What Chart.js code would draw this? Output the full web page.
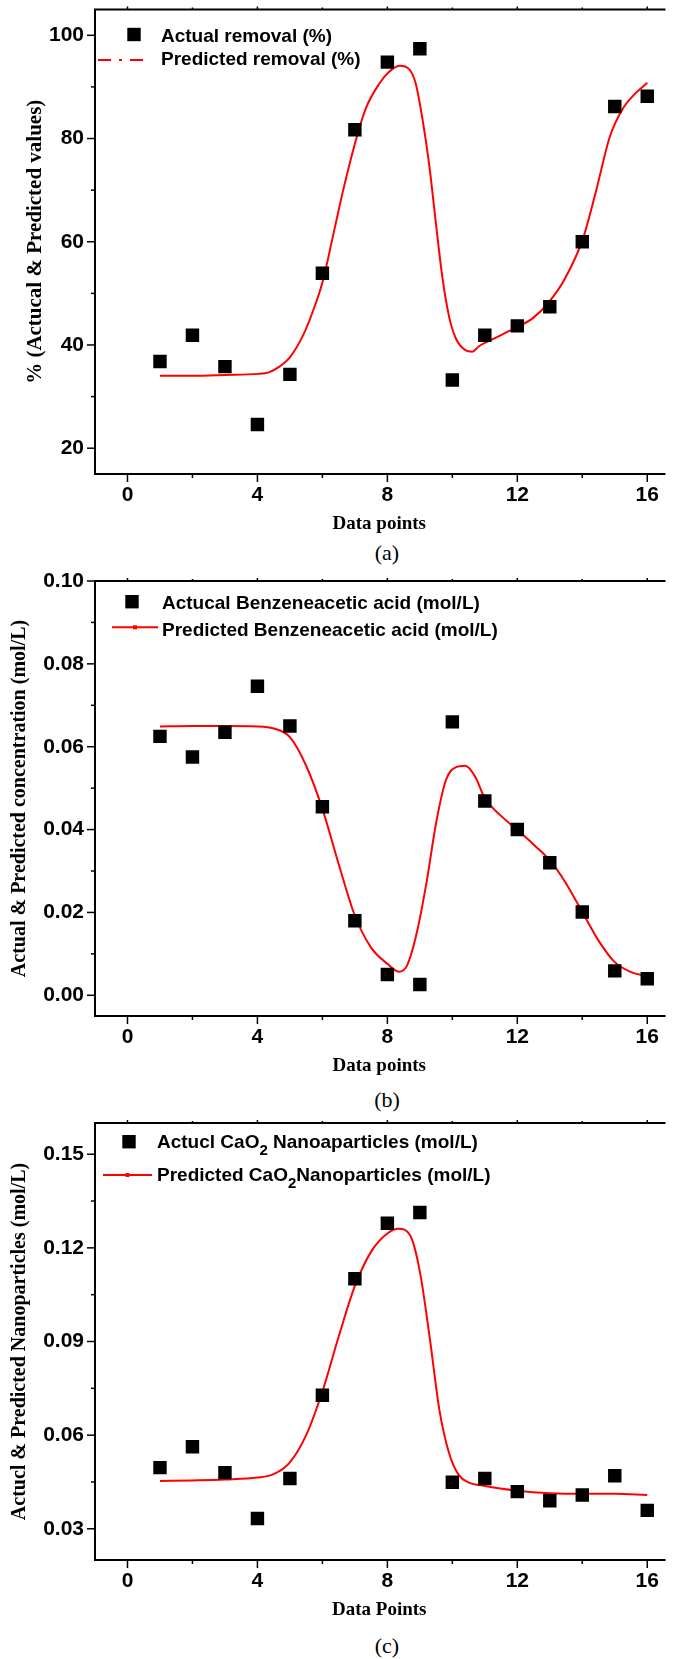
<!DOCTYPE html>
<html>
<head>
<meta charset="utf-8">
<script src="https://cdn.jsdelivr.net/npm/chart.js@4.4.1/dist/chart.umd.min.js"></script>
<style>
  html, body { margin: 0; padding: 0; background: #fff; }
  body { position: relative; width: 673px; height: 1659px; overflow: hidden; }
  canvas { position: absolute; left: 0; }
  .cap {
    position: absolute; width: 80px; margin-left: -40px; text-align: center;
    font: 22px "Liberation Serif", "Times New Roman", serif; line-height: 24px; color: #000;
  }
</style>
</head>
<body>
<canvas id="chartA" width="673" height="536" style="top:0px"></canvas>
<div class="cap" style="left:387px;top:541px">(a)</div>
<canvas id="chartB" width="673" height="511" style="top:567px"></canvas>
<div class="cap" style="left:387px;top:1088px">(b)</div>
<canvas id="chartC" width="673" height="513" style="top:1109px"></canvas>
<div class="cap" style="left:387px;top:1634px">(c)</div>

<script>
// ---- data ----
const POINT_IDS = [1, 2, 3, 4, 5, 6, 7, 8, 9, 10, 11, 12, 13, 14, 15, 16];

// (a) removal %
const ACTUAL_REMOVAL = [36.8, 41.9, 35.8, 24.6, 34.3, 53.9, 81.7, 94.8, 97.4, 33.2, 41.9, 43.7, 47.4, 60.0, 86.2, 88.2];
const PRED_REMOVAL_X = [1, 2, 3, 4, 4.35, 4.7, 5, 5.4, 5.67, 6, 6.37, 6.64, 7, 7.34, 7.76, 8.03, 8.38, 8.66, 8.87,
  9.08, 9.29, 9.49, 9.7, 9.91, 10.12, 10.4, 10.61, 10.81, 11.23, 12, 12.48, 12.97, 13.46, 14.01, 14.43, 14.85, 15.26, 15.61, 16];
const PRED_REMOVAL = [34.05, 34.05, 34.2, 34.4, 34.7, 35.9, 37.6, 41.8, 45.9, 52.1, 62.4, 70.0, 79.0, 85.9, 90.7, 92.8, 94.1, 93.5, 90.7,
  83.8, 74.8, 63.8, 52.8, 45.2, 41.1, 39.0, 38.7, 39.7, 41.1, 43.5, 45.2, 48.3, 52.8, 60.4, 70.0, 80.4, 85.9, 88.6, 90.8];

// (b) benzeneacetic acid, mol/L
const ACTUAL_BENZ = [0.0625, 0.0575, 0.0635, 0.0746, 0.0650, 0.0455, 0.0180, 0.0050, 0.0026, 0.0660, 0.0469, 0.0400, 0.0320, 0.0201, 0.0059, 0.0040];
const PRED_BENZ_X = [1, 2, 3, 4, 4.5, 5, 5.5, 6, 6.5, 7, 7.5, 8, 8.35, 8.6, 8.9, 9.2, 9.5, 9.8, 10.1, 10.4, 10.7, 11,
  11.5, 12, 12.5, 13, 13.5, 14, 14.5, 15, 15.5, 16];
const PRED_BENZ = [0.0649, 0.0650, 0.0650, 0.0649, 0.0644, 0.0623, 0.0554, 0.0450, 0.0317, 0.0192, 0.0115, 0.0076, 0.0057, 0.0071,
  0.0149, 0.0270, 0.0416, 0.0519, 0.0550, 0.0554, 0.0528, 0.0476, 0.0433, 0.0399, 0.0364, 0.0326, 0.0270, 0.0201, 0.0132, 0.0080, 0.0056, 0.0046];

// (c) CaO2 nanoparticles, mol/L
const ACTUAL_CAO2 = [0.0496, 0.0563, 0.0480, 0.0333, 0.0461, 0.0728, 0.1101, 0.1279, 0.1313, 0.0449, 0.0461, 0.0419, 0.0390, 0.0408, 0.0470, 0.0359];
const PRED_CAO2_X = [1, 2, 3, 4, 4.5, 5, 5.5, 6, 6.5, 7, 7.5, 8, 8.35, 8.7, 9, 9.3, 9.6, 9.9, 10.2, 10.5, 11, 12, 13, 14, 15, 16];
const PRED_CAO2 = [0.0453, 0.0455, 0.0458, 0.0464, 0.0475, 0.0513, 0.0600, 0.0740, 0.0915, 0.1078, 0.1188, 0.1246, 0.1261, 0.1240,
  0.1124, 0.0915, 0.0682, 0.0542, 0.0472, 0.0449, 0.0437, 0.0422, 0.0414, 0.0412, 0.0412, 0.0408];

// ---- ticks ----
const X_TICKS = [0, 4, 8, 12, 16];
const X_MINOR = [2, 6, 10, 14];
const Y_TICKS_A = [20, 40, 60, 80, 100];
const Y_MINOR_A = [30, 50, 70, 90];
const Y_TICKS_B = [0, 0.02, 0.04, 0.06, 0.08, 0.10];
const Y_MINOR_B = [0.01, 0.03, 0.05, 0.07, 0.09];
const Y_TICKS_C = [0.03, 0.06, 0.09, 0.12, 0.15];
const Y_MINOR_C = [0.045, 0.075, 0.105, 0.135];

const SANS = '"Liberation Sans", Arial, sans-serif';
const SERIF = '"Liberation Serif", "Times New Roman", serif';

const toXY = (xs, ys) => xs.map((x, i) => ({ x, y: ys[i] }));

// axis frame + tick marks, Origin style
const framePlugin = {
  id: 'frame',
  afterDraw(chart, args, o) {
    const { ctx, chartArea: { left, right, top, bottom }, scales: { x, y } } = chart;
    const seg = (x0, y0, x1, y1) => { ctx.beginPath(); ctx.moveTo(x0, y0); ctx.lineTo(x1, y1); ctx.stroke(); };
    ctx.save();
    ctx.strokeStyle = '#000';
    ctx.lineWidth = 2;
    ctx.beginPath();
    ctx.moveTo(right + 2, top);
    ctx.lineTo(left, top);
    ctx.lineTo(left, bottom);
    ctx.lineTo(right + 2, bottom);
    ctx.stroke();
    ctx.lineWidth = 1.5;
    X_TICKS.forEach(v => { const p = x.getPixelForValue(v); seg(p, bottom, p, bottom + 8); seg(p, top, p, top - 3); });
    X_MINOR.forEach(v => { const p = x.getPixelForValue(v); seg(p, bottom, p, bottom + 4); seg(p, top, p, top - 2); });
    o.yMajor.forEach(v => { const p = y.getPixelForValue(v); seg(left, p, left - 8, p); });
    o.yMinor.forEach(v => { const p = y.getPixelForValue(v); seg(left, p, left - 4, p); });
    ctx.restore();
  }
};

function drawParts(ctx, x, y, parts, size) {
  parts.forEach(([txt, sub]) => {
    ctx.font = 'bold ' + (sub ? Math.round(size * 0.8) : size) + 'px ' + SANS;
    ctx.fillText(txt, x, sub ? y + 7 : y);
    x += ctx.measureText(txt).width;
  });
}

const legendPlugin = {
  id: 'legendBox',
  afterDraw(chart, args, o) {
    const ctx = chart.ctx;
    ctx.save();
    ctx.fillStyle = '#000';
    ctx.textBaseline = 'alphabetic';
    ctx.fillRect(o.sqX - 6.7, o.sqY - 6.7, 13.4, 13.4);
    drawParts(ctx, o.textX, o.base1, o.label1, o.size);
    ctx.strokeStyle = '#ff0000';
    ctx.lineWidth = 2;
    ctx.setLineDash(o.dash || []);
    ctx.beginPath();
    ctx.moveTo(o.lineX0, o.lineY);
    ctx.lineTo(o.lineX1, o.lineY);
    ctx.stroke();
    ctx.setLineDash([]);
    if (o.marker) {
      ctx.fillStyle = '#ff0000';
      const cx = (o.lineX0 + o.lineX1) / 2;
      ctx.fillRect(cx - 2, o.lineY - 2, 4, 4);
    }
    ctx.fillStyle = '#000';
    drawParts(ctx, o.textX, o.base2, o.label2, o.size);
    ctx.restore();
  }
};

function makeChart(id, c) {
  return new Chart(document.getElementById(id), {
    type: 'scatter',
    data: {
      datasets: [
        {
          label: 'actual',
          data: toXY(POINT_IDS, c.actual),
          pointStyle: 'rect',
          pointRadius: 9.5,
          backgroundColor: '#000',
          borderColor: '#000',
          borderWidth: 0,
          showLine: false,
        },
        {
          label: 'predicted',
          data: toXY(c.predX, c.pred),
          showLine: true,
          pointRadius: 0,
          borderColor: '#ff0000',
          borderWidth: 2,
          cubicInterpolationMode: 'monotone',
          fill: false,
        },
      ],
    },
    options: {
      responsive: false,
      animation: false,
      events: [],
      layout: { padding: { top: c.padTop, right: 0, bottom: 0, left: 0 } },
      plugins: {
        legend: { display: false },
        tooltip: { enabled: false },
        frame: { yMajor: c.yMajor, yMinor: c.yMinor },
        legendBox: c.legend,
      },
      scales: {
        x: {
          type: 'linear',
          min: -1,
          max: 16.5,
          afterBuildTicks: s => { s.ticks = X_TICKS.map(v => ({ value: v })); },
          afterFit: s => { s.height = 62; s.paddingLeft = 0; s.paddingRight = 0; },
          grid: { display: false, drawTicks: false },
          border: { display: false },
          ticks: { padding: 9, color: '#000', autoSkip: false, maxRotation: 0, font: { family: SANS, size: 21, weight: 'bold' } },
          title: { display: true, text: c.xTitle, color: '#000', padding: { top: 0, bottom: 1 }, font: { family: SERIF, size: 19, weight: 'bold' } },
        },
        y: {
          type: 'linear',
          min: c.yMin,
          max: c.yMax,
          afterBuildTicks: s => { s.ticks = c.yMajor.map(v => ({ value: v })); },
          afterFit: s => { s.width = 95; s.paddingTop = 0; s.paddingBottom = 0; },
          grid: { display: false, drawTicks: false },
          border: { display: false },
          ticks: { padding: 11, color: '#000', autoSkip: false, callback: c.fmt, font: { family: SANS, size: 21, weight: 'bold' } },
          title: { display: true, text: c.yTitle, color: '#000', padding: { top: c.yTitlePad, bottom: 0 }, font: { family: SERIF, size: c.yTitleSize, weight: 'bold' } },
        },
      },
    },
    plugins: [framePlugin, legendPlugin],
  });
}

makeChart('chartA', {
  actual: ACTUAL_REMOVAL, predX: PRED_REMOVAL_X, pred: PRED_REMOVAL,
  padTop: 8, yMin: 15, yMax: 105, yMajor: Y_TICKS_A, yMinor: Y_MINOR_A,
  fmt: v => String(v),
  xTitle: 'Data points', yTitle: '% (Actucal & Predicted values)', yTitleSize: 21, yTitlePad: 23,
  legend: {
    size: 19, sqX: 134, sqY: 34.5, textX: 161, base1: 41.5, base2: 64.5,
    lineX0: 98, lineX1: 146, lineY: 60, dash: [13, 8, 3, 8],
    label1: [['Actual removal (%)', false]],
    label2: [['Predicted removal (%)', false]],
  },
});

makeChart('chartB', {
  actual: ACTUAL_BENZ, predX: PRED_BENZ_X, pred: PRED_BENZ,
  padTop: 14, yMin: -0.005, yMax: 0.10, yMajor: Y_TICKS_B, yMinor: Y_MINOR_B,
  fmt: v => v.toFixed(2),
  xTitle: 'Data points', yTitle: 'Actual & Predicted concentration (mol/L)', yTitleSize: 20, yTitlePad: 8,
  legend: {
    size: 19, sqX: 132, sqY: 34.7, textX: 162, base1: 42, base2: 68.5,
    lineX0: 112, lineX1: 158, lineY: 60.3, marker: true,
    label1: [['Actucal Benzeneacetic acid (mol/L)', false]],
    label2: [['Predicted Benzeneacetic acid (mol/L)', false]],
  },
});

makeChart('chartC', {
  actual: ACTUAL_CAO2, predX: PRED_CAO2_X, pred: PRED_CAO2,
  padTop: 14, yMin: 0.02, yMax: 0.16, yMajor: Y_TICKS_C, yMinor: Y_MINOR_C,
  fmt: v => v.toFixed(2),
  xTitle: 'Data Points', yTitle: 'Actucl & Predicted Nanoparticles (mol/L)', yTitleSize: 20, yTitlePad: 8,
  legend: {
    size: 19, sqX: 129, sqY: 32.7, textX: 157, base1: 39.3, base2: 71.7,
    lineX0: 103, lineX1: 152, lineY: 66, marker: true,
    label1: [['Actucl CaO', false], ['2', true], [' Nanoaparticles (mol/L)', false]],
    label2: [['Predicted CaO', false], ['2', true], ['Nanoparticles (mol/L)', false]],
  },
});
</script>
</body>
</html>
